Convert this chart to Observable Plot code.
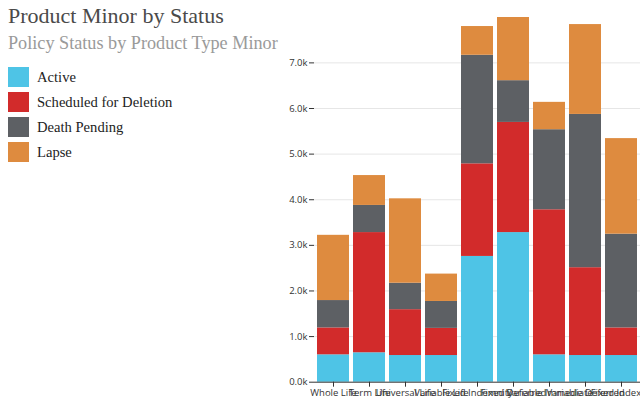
<!DOCTYPE html>
<html>
<head>
<meta charset="utf-8">
<script src="https://cdn.jsdelivr.net/npm/d3@7"></script>
<script src="https://cdn.jsdelivr.net/npm/@observablehq/plot@0.6"></script>
<style>
  html, body { margin: 0; padding: 0; width: 640px; height: 400px; overflow: hidden; background: #fff; }
  #title { position: absolute; left: 8px; top: 3px; font-family: "Liberation Serif", serif; font-size: 22px; color: #4a4a4a; white-space: nowrap; }
  #subtitle { position: absolute; left: 8px; top: 33px; font-family: "Liberation Serif", serif; font-size: 18.2px; color: #9a9a9a; white-space: nowrap; }
  #legend { position: absolute; left: 8px; top: 67px; font-family: "Liberation Serif", serif; font-size: 14.6px; color: #222; }
  .item { display: flex; align-items: center; height: 20px; margin-bottom: 5px; }
  .sw { width: 21px; height: 20px; margin-right: 8px; }
  #chart { position: absolute; left: 280px; top: 0; width: 380px; }
  #chart svg { max-width: none; }
</style>
</head>
<body>
<div id="title">Product Minor by Status</div>
<div id="subtitle">Policy Status by Product Type Minor</div>
<div id="legend"></div>
<div id="chart"></div>
<script>
const categories = ["Whole Life", "Term Life", "Universal Life", "Variable Life", "Fixed Indemnity", "Fixed Deferred", "Variable Immediate", "Variable Deferred", "Fixed Indexed"];
const statuses = ["Active", "Scheduled for Deletion", "Death Pending", "Lapse"];
const colors = ["#4ec4e6", "#d22b2b", "#5d6064", "#de8b3f"];
const active = [600, 645, 585, 585, 2757, 3280, 600, 585, 585];
const scheduled = [590, 2635, 1005, 595, 2030, 2415, 3180, 1925, 605];
const deathPending = [600, 595, 580, 590, 2380, 915, 1755, 3360, 2055];
const lapse = [1430, 655, 1850, 600, 630, 1385, 600, 1970, 2095];
const yTicks = [0, 1000, 2000, 3000, 4000, 5000, 6000, 7000];

const series = [active, scheduled, deathPending, lapse];
const rows = [];
statuses.forEach((s, si) => {
  categories.forEach((c, ci) => rows.push({category: c, status: s, value: series[si][ci]}));
});

const legend = document.getElementById("legend");
statuses.forEach((s, i) => {
  const d = document.createElement("div");
  d.className = "item";
  d.innerHTML = `<div class="sw" style="background:${colors[i]}"></div><span>${s}</span>`;
  legend.appendChild(d);
});

const chart = Plot.plot({
  width: 380,
  height: 400,
  marginLeft: 34,
  marginRight: 19.5,
  marginTop: 17,
  marginBottom: 18.3,
  style: {fontFamily: "'Open Sans', sans-serif", fontSize: "9.5px", color: "#333", overflow: "visible", maxWidth: "none"},
  x: {domain: categories, paddingInner: 0.1, paddingOuter: 0, label: null},
  y: {label: null},
  color: {domain: statuses, range: colors},
  marks: [
    Plot.gridY(yTicks.slice(1), {stroke: "#e6e6e6", strokeOpacity: 1}),
    Plot.barY(rows, {x: "category", y: "value", fill: "status", order: statuses}),
    Plot.ruleY([0], {stroke: "#333"}),
    Plot.axisX({tickSize: 5, tickPadding: 2, label: null, stroke: "#333"}),
    Plot.axisY({ticks: yTicks, tickFormat: d => (d / 1000).toFixed(1) + "k", tickSize: 5, tickPadding: 2, label: null})
  ]
});
document.getElementById("chart").appendChild(chart);
</script>
</body>
</html>
